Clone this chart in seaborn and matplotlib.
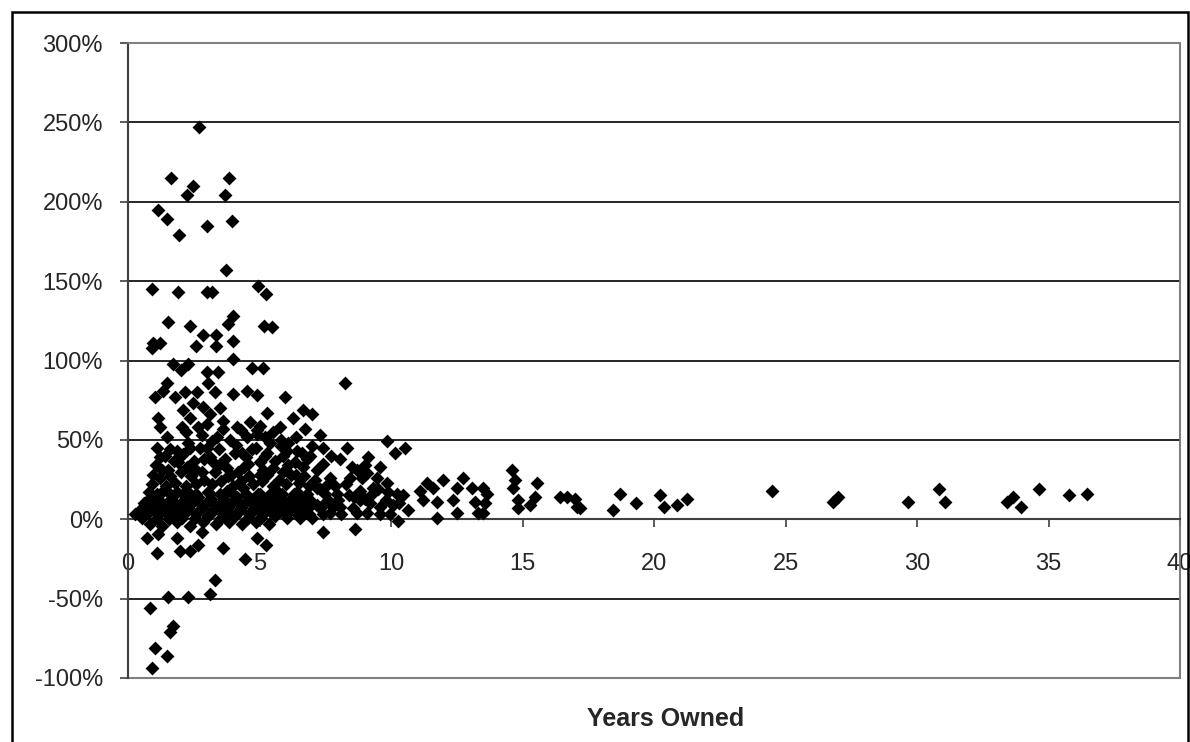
import pandas as pd
import matplotlib
matplotlib.use('Agg')
import matplotlib.pyplot as plt
from matplotlib.patches import Rectangle
from matplotlib.ticker import FuncFormatter
import seaborn as sns

sns.set_style('white')
plt.rcParams['font.family'] = ['Liberation Sans', 'DejaVu Sans']

# values: years owned vs. return (%)
high_years = [2.70, 1.63, 2.47, 2.24, 3.84, 3.69, 1.14, 1.48, 1.94, 3.00, 3.95, 3.73,
              0.91, 1.90, 3.00, 3.19, 4.94, 5.25, 1.52, 2.36, 3.99, 3.80, 5.17, 5.48]
high_returns = [247, 215, 210, 204, 215, 204, 195, 189, 179, 185, 188, 157,
                145, 143, 143, 143, 147, 142, 124, 122, 128, 123, 122, 121]

mid_years = [0.95, 1.22, 0.91, 2.85, 3.35, 2.59, 3.35, 3.99, 3.99, 1.71, 2.02, 2.28,
             3.00, 3.42, 3.04, 4.71, 5.13, 1.48, 1.33, 1.03, 1.79, 2.17, 2.62, 3.31,
             3.99, 4.52, 5.97, 2.47, 2.85, 2.09, 3.50, 4.90, 5.29, 1.14, 1.22, 2.36,
             2.05, 2.66, 3.12, 3.61, 4.14, 4.64, 5.02, 5.78, 6.27, 6.65, 1.48, 1.10,
             1.86, 2.36, 3.00, 3.38, 3.88, 4.52, 4.90, 4.33, 5.29, 6.05, 6.62, 1.22,
             0.95, 1.52, 2.24, 2.81, 3.23, 3.76, 4.56, 5.13, 5.89, 6.65, 0.80, 1.33,
             1.86, 2.36, 3.04, 3.76, 4.37, 4.94, 5.67, 6.43,
             4.90, 5.20, 5.50, 5.80, 6.10, 6.40]
mid_returns = [111, 111, 108, 116, 116, 109, 109, 112, 101, 98, 94, 98,
               93, 93, 86, 95, 95, 86, 81, 77, 77, 80, 80, 80,
               79, 81, 77, 73, 71, 69, 70, 78, 67, 64, 58, 64,
               58, 58, 66, 57, 58, 61, 59, 58, 64, 69, 52, 45,
               43, 45, 45, 52, 50, 52, 54, 42, 42, 43, 42, 39,
               28, 31, 33, 30, 36, 32, 35, 31, 30, 33, 17, 18,
               17, 16, 17, 18, 20, 16, 18, 17,
               56, 52, 55, 50, 48, 52]

core_years = [0.45, 0.55, 0.60, 0.75, 0.85, 0.90, 1.00, 1.10, 1.20, 1.30, 1.35, 1.50,
              1.55, 1.65, 1.75, 1.85, 1.95, 2.05, 2.15, 2.25, 2.35, 2.45, 2.55, 2.65,
              2.75, 2.85, 2.95, 3.05, 3.15, 3.25, 3.35, 3.45, 3.55, 3.65, 3.75, 3.85,
              3.95, 4.05, 4.15, 4.25, 4.35, 4.45, 4.55, 4.65, 4.75, 4.85, 4.95, 5.05,
              5.15, 5.25, 5.35, 5.45, 5.60, 5.70, 5.80, 5.95, 6.05, 6.20, 6.30, 6.45,
              6.55, 6.70, 6.85, 7.00, 7.20, 7.40, 7.60,
              0.90, 1.05, 1.20, 1.40, 1.45, 1.60, 1.75, 1.80, 2.00, 2.10, 2.20, 2.40,
              2.50, 2.60, 2.75, 2.90, 3.10, 3.20, 3.30, 3.45, 3.55, 3.70, 3.80, 4.00,
              4.05, 4.20, 4.30, 4.50, 4.60, 4.75, 4.85, 5.00, 5.10, 5.30, 5.40, 5.50,
              5.60, 5.75, 5.90, 6.00, 6.20, 6.35, 6.50, 6.70, 6.90, 7.10, 7.30, 7.60,
              8.00, 8.30, 8.60, 8.90, 9.20, 9.50, 9.80, 9.00, 8.70]
core_returns = [6, 1, 10, 4, -3, 13, 7, 1, 11, -4, 5, 9,
                0, 13, 4, -2, 9, 1, 13, 5, -4, 10, 1, 14,
                6, -2, 10, 2, 13, 6, -3, 9, 1, 13, 5, -2,
                10, 2, 14, 6, -3, 10, 1, 13, 5, -2, 9, 1,
                12, 5, -3, 9, 2, 13, 6, 10, 1, 13, 5, 9,
                1, 12, 7, 1, 9, 3, 12,
                22, 34, 26, 40, 21, 27, 37, 23, 30, 41, 21, 27,
                37, 22, 45, 25, 39, 22, 30, 44, 24, 38, 27, 21,
                42, 30, 24, 39, 27, 22, 45, 36, 24, 28, 48, 21,
                37, 25, 40, 22, 28, 36, 23, 27, 21, 25, 19, 22,
                12, 22, 14, 26, 10, 19, 12, 34, 31]

# extra points where the cluster is packed solid
dense_years = [0.65, 1.15, 1.60, 2.10, 2.60, 3.10, 3.60, 4.10, 4.60, 5.10, 5.50, 6.00, 6.50, 6.90,
               0.70, 1.25, 1.70, 2.20, 2.70, 3.20, 3.70, 4.20, 4.70, 5.20, 5.65, 6.10, 6.60,
               1.10, 1.60, 2.10, 2.60, 3.10, 3.50, 4.00, 4.50, 5.00, 5.40, 5.85, 6.30, 6.80,
               0.80, 1.30, 1.80, 2.30, 2.80, 3.30, 3.80, 4.30, 4.80, 5.30, 5.75, 6.25, 6.75, 7.30,
               1.30, 1.60, 1.90, 2.30, 2.60, 2.90, 3.20, 3.50, 3.90, 4.10, 4.40, 4.70, 5.00,
               5.20, 5.50, 5.80, 6.10, 6.40, 6.80, 7.00, 2.20, 2.80, 3.60, 4.30, 3.00,
               7.50, 7.80, 8.10, 8.40, 8.70, 9.00, 9.30, 9.60, 9.90, 10.30, 7.20, 7.70, 8.50]
dense_returns = [3, 3, 3, 3, 3, 3, 3, 3, 3, 3, 3, 3, 3, 3,
                 11, 11, 11, 11, 11, 11, 11, 11, 11, 11, 11, 11, 11,
                 16, 16, 16, 16, 16, 16, 16, 16, 16, 16, 16, 16, 16,
                 7, 7, 7, 7, 7, 7, 7, 7, 7, 7, 7, 7, 7, 7,
                 31, 44, 36, 48, 31, 38, 49, 35, 28, 47, 33, 44, 28,
                 40, 32, 46, 34, 28, 38, 46, 55, 53, 62, 56, 60,
                 16, 8, 3, 15, 4, 13, 20, 3, 17, 10, 20, 40, 33]

neg_years = [0.27, 0.72, 1.14, 1.10, 1.86, 1.98, 2.36, 2.66, 2.81, 3.61, 4.45, 4.90,
             5.25, 3.31, 3.12, 2.28, 1.52, 0.84, 1.71, 1.60, 1.03, 1.48, 0.91]
neg_returns = [3, -12, -9, -21, -12, -20, -20, -16, -8, -18, -25, -12,
               -16, -38, -47, -49, -49, -56, -67, -71, -81, -86, -94]

later_years = [8.25, 9.85, 10.53, 10.15, 7.00, 6.73, 7.30, 8.33, 7.41, 9.13, 9.58, 8.06,
               7.41, 6.92, 6.43, 8.44, 9.09, 9.47, 9.85, 7.68, 7.19, 7.87, 8.82, 9.28,
               10.23, 10.46, 11.37, 11.98, 11.60, 11.10, 12.74, 12.51, 13.08, 13.50, 11.22, 11.75,
               12.36, 13.19, 10.65, 10.08, 9.58, 9.09, 9.96, 10.27, 11.75, 12.51, 13.31, 7.41,
               8.63, 8.06, 8.56, 7.41, 6.92, 6.43, 7.95, 8.82, 6.81, 7.68]
later_returns = [86, 49, 45, 42, 66, 57, 53, 45, 45, 39, 33, 38,
                 35, 40, 43, 26, 29, 26, 23, 26, 31, 21, 18, 16,
                 16, 15, 23, 25, 20, 18, 26, 20, 20, 20, 12, 11,
                 12, 11, 6, 9, 8, 4, 3, -1, 1, 4, 4, -8,
                 -6, 8, 7, 9, 12, 16, 16, 12, 4, 4]

tail_years = [14.60, 14.71, 14.64, 15.55, 14.83, 14.83, 15.29, 15.48, 16.43, 16.69, 17.00, 17.19,
              17.07, 13.65, 13.57, 13.50, 18.71, 18.44, 19.32, 20.23, 20.38, 20.87, 21.25,
              24.49, 26.81, 27.00, 29.66, 30.84, 31.06, 33.42, 33.65, 33.95, 34.64, 35.78, 36.46]
tail_returns = [31, 25, 20, 23, 12, 7, 9, 14, 14, 14, 13, 7,
                8, 16, 10, 4, 16, 6, 10, 15, 8, 9, 13,
                18, 11, 14, 11, 19, 11, 11, 14, 8, 19, 15, 16]

df = pd.DataFrame({
    'years': high_years + mid_years + core_years + dense_years + neg_years + later_years + tail_years,
    'ret': high_returns + mid_returns + core_returns + dense_returns + neg_returns + later_returns + tail_returns,
})

fig = plt.figure(figsize=(11.9, 7.42), dpi=100)
ax = fig.add_axes([128 / 1190, 1 - 678 / 742, 1052 / 1190, 635 / 742])

# gridlines
for g in [-50, 50, 100, 150, 200, 250]:
    ax.axhline(g, color='black', lw=1.2, zorder=1)

sns.scatterplot(data=df, x='years', y='ret', marker='D', color='black',
                s=50, linewidth=0, ax=ax, zorder=3, legend=False)

ax.set_xlim(0, 40)
ax.set_ylim(-100, 300)
ax.set_xticks(range(0, 41, 5))
ax.set_yticks(range(-100, 301, 50))
ax.yaxis.set_major_formatter(FuncFormatter(lambda v, p: '%d%%' % v))

for side in ['top', 'right']:
    ax.spines[side].set_color('#808080')
    ax.spines[side].set_linewidth(1.2)
ax.spines['left'].set_color('#404040')
ax.spines['left'].set_linewidth(1.5)
ax.spines['bottom'].set_position(('data', 0))
ax.spines['bottom'].set_color('#404040')
ax.spines['bottom'].set_linewidth(1.5)
ax.add_patch(Rectangle((0, 0), 1, 1, transform=ax.transAxes, fill=False,
                       edgecolor='#808080', lw=1.5, zorder=0, clip_on=False))

ax.tick_params(axis='y', direction='out', length=6, width=1.2, color='#404040',
               pad=12, labelsize=17, left=True)
ax.tick_params(axis='x', direction='out', length=6, width=1.2, color='#404040',
               pad=18, labelsize=17, bottom=True)

ax.set_xlabel('Years Owned', fontsize=18, fontweight='bold')
ax.xaxis.set_label_coords((666 - 128) / 1052, -0.045)
ax.xaxis.label.set_va('top')
ax.set_ylabel('')

fig.add_artist(Rectangle((12 / 1190, -0.05), 1176 / 1190, 1.05 - 12 / 742,
                         transform=fig.transFigure, fill=False,
                         edgecolor='black', lw=1.8))

fig.savefig('out.png', dpi=100)
